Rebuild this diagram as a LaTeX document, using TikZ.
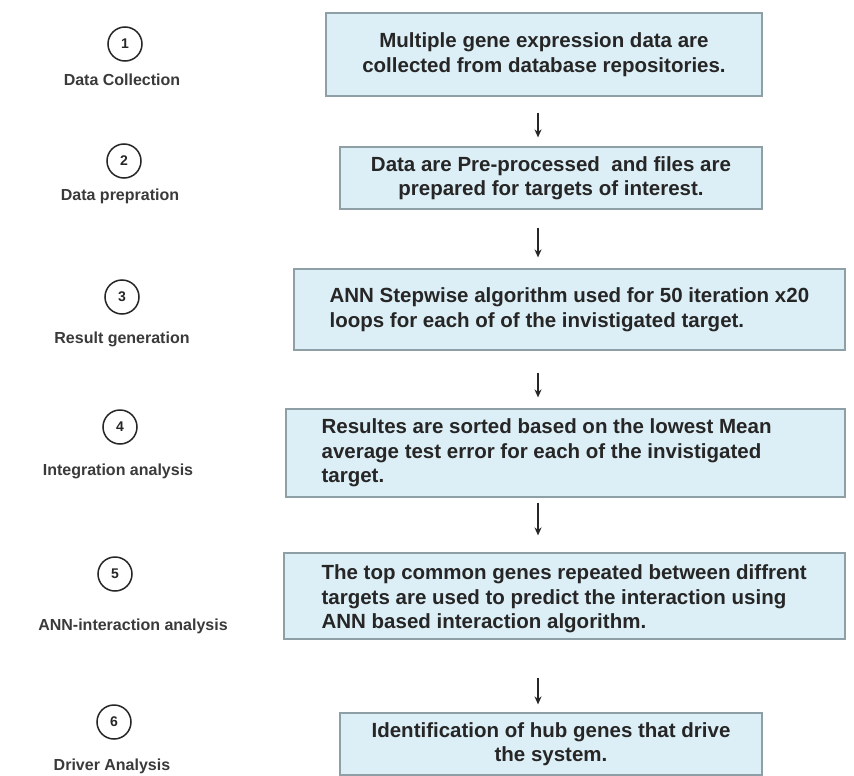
\documentclass[tikz,border=0pt]{standalone}
\usepackage{fontspec}
\setmainfont{Liberation Sans}
\usetikzlibrary{arrows.meta}
\definecolor{boxfill}{HTML}{DDEFF6}
\definecolor{boxline}{HTML}{8E9FA6}
\definecolor{ink}{HTML}{262626}
\definecolor{labelink}{HTML}{3A3A3A}
\begin{document}
\begin{tikzpicture}[x=1pt,y=-1pt,
  stepbox/.style={draw=boxline, line width=1.2pt, fill=boxfill, inner sep=0pt, rectangle},
  boxtext/.style={inner sep=0pt, text=ink, font=\fontsize{20.5}{24.5}\selectfont\bfseries},
  num/.style={circle, draw=ink, line width=1.5pt, minimum size=34pt, inner sep=0pt,
              font=\fontsize{14}{14}\selectfont\bfseries, text=ink},
  steplabel/.style={inner sep=0pt, anchor=base, text=labelink,
              font=\fontsize{16}{16}\selectfont\bfseries},
  flow/.style={draw=ink, line width=1.4pt, -{Stealth[length=8pt,width=7pt]}}
]
\useasboundingbox[fill=white] (0,0) rectangle (854,776);

% step boxes
\node[stepbox, minimum width=436pt, minimum height=83pt] (b1) at (544,54.5) {};
\node[stepbox, minimum width=422pt, minimum height=62pt] (b2) at (551,178) {};
\node[stepbox, minimum width=551pt, minimum height=81pt] (b3) at (569.5,309.5) {};
\node[stepbox, minimum width=559pt, minimum height=88pt] (b4) at (565.5,453) {};
\node[stepbox, minimum width=561pt, minimum height=86pt] (b5) at (564.5,596) {};
\node[stepbox, minimum width=422pt, minimum height=62pt] (b6) at (551,744) {};

% box texts
\node[boxtext, align=center] (t1) at (b1.center) {Multiple gene expression data are\\collected from database repositories.};
\node[boxtext, align=center] (t2) at (b2.center) {Data are Pre-processed\ \ and files are\\prepared for targets of interest.};
\node[boxtext, align=left, anchor=west] (t3) at ([xshift=36pt]b3.west) {ANN Stepwise algorithm used for 50 iteration x20\\loops for each of of the invistigated target.};
\node[boxtext, align=left, anchor=west] (t4) at ([xshift=36pt]b4.west) {Resultes are sorted based on the lowest Mean\\average test error for each of the invistigated\\target.};
\node[boxtext, align=left, anchor=west] (t5) at ([xshift=38pt,yshift=-3pt]b5.west) {The top common genes repeated between diffrent\\targets are used to predict the interaction using\\ANN based interaction algorithm.};
\node[boxtext, align=center] (t6) at (b6.center) {Identification of hub genes that drive\\the system.};

% numbered markers
\node[num] (c1) at (125,44) {1};
\node[num] (c2) at (124,161) {2};
\node[num] (c3) at (122,297) {3};
\node[num] (c4) at (120,427) {4};
\node[num] (c5) at (115,574) {5};
\node[num] (c6) at (114,722) {6};

% step labels
\node[steplabel] (l1) at (122,85) {Data Collection};
\node[steplabel] (l2) at (120,200) {Data prepration};
\node[steplabel] (l3) at (122,343) {Result generation};
\node[steplabel] (l4) at (118,475) {Integration analysis};
\node[steplabel] (l5) at (133,630) {ANN-interaction analysis};
\node[steplabel] (l6) at (112,770) {Driver Analysis};

% flow arrows
\coordinate (ax) at (538,0);
\draw[flow, shorten <=16pt, shorten >=9pt]  (b1.south -| ax) -- (b2.north -| ax);
\draw[flow, shorten <=18pt, shorten >=11pt] (b2.south -| ax) -- (b3.north -| ax);
\draw[flow, shorten <=22pt, shorten >=11pt] (b3.south -| ax) -- (b4.north -| ax);
\draw[flow, shorten <=5pt,  shorten >=17pt] (b4.south -| ax) -- (b5.north -| ax);
\draw[flow, shorten <=38pt, shorten >=8pt]  (b5.south -| ax) -- (b6.north -| ax);
\end{tikzpicture}
\end{document}
